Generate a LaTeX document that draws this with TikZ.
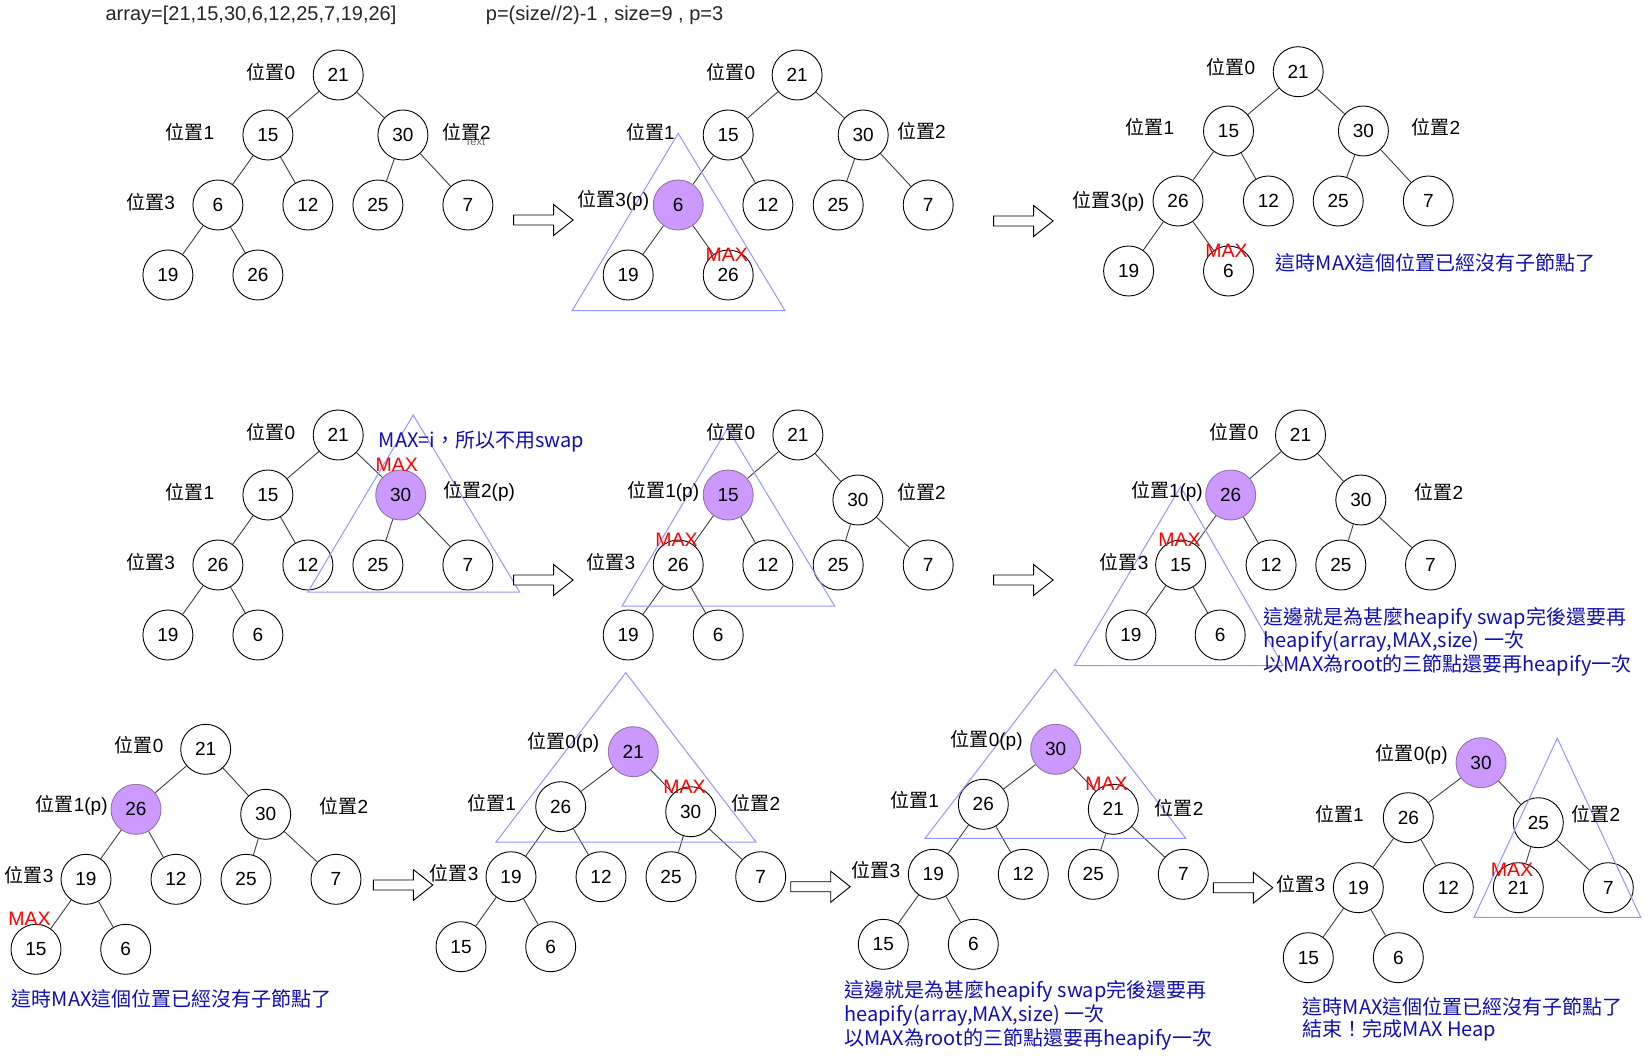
\documentclass[tikz,border=0pt]{standalone}
\usepackage{fontspec}
\setmainfont{Liberation Sans}
\newfontfamily\cjk{Noto Sans CJK TC}
\definecolor{tricol}{RGB}{150,150,255}
\definecolor{bluetxt}{RGB}{15,15,180}
\definecolor{purp}{RGB}{204,153,255}
\definecolor{purpline}{RGB}{150,115,166}
\newcommand\wzlbl{{\cjk 位置}}
\begin{document}
\begin{tikzpicture}[x=1pt,y=-1pt,
 hn/.style={circle,draw=black,line width=0.9pt,fill=white,minimum size=50pt,inner sep=0pt,font=\fontsize{19}{19}\selectfont},
 hp/.style={hn,fill=purp,draw=purpline},
 lnk/.style={draw=black!75,line width=0.9pt},
 lbl/.style={inner sep=0pt,font=\fontsize{19}{19}\selectfont},
 maxlbl/.style={inner sep=0pt,text=red,font=\fontsize{19.5}{19.5}\selectfont},
 bnote/.style={inner sep=0pt,anchor=west,text=bluetxt,font=\cjk\fontsize{20}{23}\selectfont},
 tribox/.style={draw=tricol,line width=1pt},
 hdr/.style={inner sep=0pt,anchor=west,text=black!85,font=\fontsize{20}{20}\selectfont},
 barrow/.pic={\draw[line width=0.9pt,fill=white] (0,-5)--(40,-5)--(40,-15.5)--(59.5,0)--(40,15.5)--(40,5)--(0,5)--cycle;}
]
\fill[white] (0,0) rectangle (1651,1062);
\useasboundingbox (0,0) rectangle (1651,1062);

% headers
\node[hdr] (h1) at (105.4,15) {array=[21,15,30,6,12,25,7,19,26]};
\node[hdr] (h2) at (485.7,15) {p=(size//2)-1 , size=9 , p=3};

% Tree A
\node[hn] (A0) at (338.2,75) {21};
\node[hn] (A1) at (267.9,135) {15};
\node[hn] (A2) at (402.9,135) {30};
\node[hn] (A3) at (217.9,205) {6};
\node[hn] (A4) at (307.9,205) {12};
\node[hn] (A5) at (377.9,205) {25};
\node[hn] (A6) at (467.9,205) {7};
\node[hn] (A7) at (167.9,275) {19};
\node[hn] (A8) at (257.9,275) {26};

% Tree B
\node[hn] (B0) at (797.1,75) {21};
\node[hn] (B1) at (728.2,135) {15};
\node[hn] (B2) at (863.2,135) {30};
\node[hp] (B3) at (678.2,205) {6};
\node[hn] (B4) at (767.9,205) {12};
\node[hn] (B5) at (838.2,205) {25};
\node[hn] (B6) at (928.2,205) {7};
\node[hn] (B7) at (628.2,275) {19};
\node[hn] (B8) at (728.2,275) {26};

% Tree C
\node[hn] (C0) at (1298.2,71.7) {21};
\node[hn] (C1) at (1228.5,131) {15};
\node[hn] (C2) at (1363.4,131) {30};
\node[hn] (C3) at (1178,201) {26};
\node[hn] (C4) at (1268.4,201) {12};
\node[hn] (C5) at (1338.2,201) {25};
\node[hn] (C6) at (1428.3,201) {7};
\node[hn] (C7) at (1128.6,271) {19};
\node[hn] (C8) at (1228.5,271) {6};

% Tree D
\node[hn] (D0) at (338.2,435) {21};
\node[hn] (D1) at (267.9,495) {15};
\node[hp] (D2) at (400.7,495) {30};
\node[hn] (D3) at (217.9,565) {26};
\node[hn] (D4) at (307.9,565) {12};
\node[hn] (D5) at (377.9,565) {25};
\node[hn] (D6) at (467.9,565) {7};
\node[hn] (D7) at (167.9,635) {19};
\node[hn] (D8) at (257.9,635) {6};

% Tree E
\node[hn] (E0) at (797.9,435) {21};
\node[hp] (E1) at (728.2,495) {15};
\node[hn] (E2) at (857.9,500) {30};
\node[hn] (E3) at (678.2,565) {26};
\node[hn] (E4) at (767.9,565) {12};
\node[hn] (E5) at (838.2,565) {25};
\node[hn] (E6) at (928.2,565) {7};
\node[hn] (E7) at (628.2,635) {19};
\node[hn] (E8) at (718.2,635) {6};

% Tree F
\node[hn] (F0) at (1300.5,435) {21};
\node[hp] (F1) at (1230.7,495) {26};
\node[hn] (F2) at (1360.8,500) {30};
\node[hn] (F3) at (1180.6,565) {15};
\node[hn] (F4) at (1271.1,565) {12};
\node[hn] (F5) at (1340.8,565) {25};
\node[hn] (F6) at (1430.5,565) {7};
\node[hn] (F7) at (1130.9,635) {19};
\node[hn] (F8) at (1220.2,635) {6};

% Tree G
\node[hn] (G0) at (205.7,749.3) {21};
\node[hp] (G1) at (136,809.3) {26};
\node[hn] (G2) at (265.7,814.3) {30};
\node[hn] (G3) at (86,879.3) {19};
\node[hn] (G4) at (176,879.3) {12};
\node[hn] (G5) at (246,879.3) {25};
\node[hn] (G6) at (336,879.3) {7};
\node[hn] (G7) at (36,949.3) {15};
\node[hn] (G8) at (125.7,949.3) {6};

% Tree H
\node[hp] (H0) at (633.3,751.7) {21};
\node[hn] (H1) at (560.7,806.7) {26};
\node[hn] (H2) at (690.7,811.7) {30};
\node[hn] (H3) at (511,876.7) {19};
\node[hn] (H4) at (601,876.7) {12};
\node[hn] (H5) at (671,876.7) {25};
\node[hn] (H6) at (760.7,876.7) {7};
\node[hn] (H7) at (461,946.7) {15};
\node[hn] (H8) at (550.7,946.7) {6};

% Tree I
\node[hp] (I0) at (1055.7,749.3) {30};
\node[hn] (I1) at (983.3,804.3) {26};
\node[hn] (I2) at (1113.3,809.3) {21};
\node[hn] (I3) at (933.3,874.3) {19};
\node[hn] (I4) at (1023.3,874.3) {12};
\node[hn] (I5) at (1093.3,874.3) {25};
\node[hn] (I6) at (1183.3,874.3) {7};
\node[hn] (I7) at (883.3,944.3) {15};
\node[hn] (I8) at (973.3,944.3) {6};

% Tree J
\node[hp] (J0) at (1481,762.7) {30};
\node[hn] (J1) at (1408.3,817.7) {26};
\node[hn] (J2) at (1538.3,822.7) {25};
\node[hn] (J3) at (1358.3,887.7) {19};
\node[hn] (J4) at (1448.3,887.7) {12};
\node[hn] (J5) at (1518.3,887.7) {21};
\node[hn] (J6) at (1608.3,887.7) {7};
\node[hn] (J7) at (1308.3,957.7) {15};
\node[hn] (J8) at (1398.3,957.7) {6};

% edges
\foreach \t in {A,B,C,D,E,F,G,H,I,J} {
  \draw[lnk] (\t0)--(\t1) (\t0)--(\t2) (\t1)--(\t3) (\t1)--(\t4)
             (\t2)--(\t5) (\t2)--(\t6) (\t3)--(\t7) (\t3)--(\t8);
}

% triangles
\draw[tribox] (678.2,133.3) -- (572.1,310.7) -- (785,310.7) -- cycle;
\draw[tribox] (413.2,415) -- (307.9,592) -- (519.6,592) -- cycle;
\draw[tribox] (727.5,428.3) -- (622.1,606) -- (834.6,606) -- cycle;
\draw[tribox] (1180.6,486.7) -- (1074.3,665.7) -- (1283,665.7) -- cycle;
\draw[tribox] (625.7,672.7) -- (496,842) -- (756,842) -- cycle;
\draw[tribox] (1055,669.3) -- (925,838.3) -- (1185.7,838.3) -- cycle;
\draw[tribox] (1557.3,738.3) -- (1474,917.3) -- (1640.7,917.3) -- cycle;

% block arrows
\pic at (513.6,220) {barrow};
\pic at (993.6,221) {barrow};
\pic at (513.6,580) {barrow};
\pic at (993.6,580) {barrow};
\pic at (373.3,885) {barrow};
\pic at (790.7,886.7) {barrow};
\pic at (1213.3,887.7) {barrow};

% labels A
\node[lbl] (Al0) at (271,71.7) {\wzlbl 0};
\node[lbl] (Al1) at (190,131.7) {\wzlbl 1};
\node[lbl] (Al2) at (466.4,131.7) {\wzlbl 2};
\node[inner sep=0pt,text=black!60,font=\fontsize{11}{11}\selectfont] (Atx) at (475,141.7) {Text};
\node[lbl] (Al3) at (150.7,201.7) {\wzlbl 3};
% labels B
\node[lbl] (Bl0) at (731,72) {\wzlbl 0};
\node[lbl] (Bl1) at (650.4,131.7) {\wzlbl 1};
\node[lbl] (Bl2) at (921.4,131) {\wzlbl 2};
\node[lbl] (Bl3) at (613.2,200) {\wzlbl 3(p)};
\node[maxlbl] (Bm) at (726.8,255) {MAX};
% labels C
\node[lbl] (Cl0) at (1230.8,66.7) {\wzlbl 0};
\node[lbl] (Cl1) at (1150,126.7) {\wzlbl 1};
\node[lbl] (Cl2) at (1435.8,126.7) {\wzlbl 2};
\node[lbl] (Cl3) at (1108.6,201) {\wzlbl 3(p)};
\node[maxlbl] (Cm) at (1226.6,250.7) {MAX};
\node[bnote] (Cn) at (1275.6,263.3) {這時MAX這個位置已經沒有子節點了};
% labels D
\node[lbl] (Dl0) at (271,431.7) {\wzlbl 0};
\node[lbl] (Dl1) at (190,491.7) {\wzlbl 1};
\node[lbl] (Dl2) at (479,491.7) {\wzlbl 2(p)};
\node[lbl] (Dl3) at (150.7,561.7) {\wzlbl 3};
\node[maxlbl] (Dm) at (396.8,465) {MAX};
\node[bnote] (Dn) at (378.6,441.7) {MAX=i，所以不用swap};
% labels E
\node[lbl] (El0) at (731,431.7) {\wzlbl 0};
\node[lbl] (El1) at (663.2,491.7) {\wzlbl 1(p)};
\node[lbl] (El2) at (921.4,491.7) {\wzlbl 2};
\node[lbl] (El3) at (611,561.7) {\wzlbl 3};
\node[maxlbl] (Em) at (676.4,540) {MAX};
% labels F
\node[lbl] (Fl0) at (1234.1,431.7) {\wzlbl 0};
\node[lbl] (Fl1) at (1166.9,491.7) {\wzlbl 1(p)};
\node[lbl] (Fl2) at (1438.8,491.7) {\wzlbl 2};
\node[lbl] (Fl3) at (1124.1,561.7) {\wzlbl 3};
\node[maxlbl] (Fm) at (1179.5,540) {MAX};
\node[bnote] (Fn1) at (1263.5,618.3) {這邊就是為甚麼heapify swap完後還要再};
\node[bnote] (Fn2) at (1263.5,641.7) {heapify(array,MAX,size) 一次};
\node[bnote] (Fn3) at (1263.5,665) {以MAX為root的三節點還要再heapify一次};
% labels G
\node[lbl] (Gl0) at (139.2,745) {\wzlbl 0};
\node[lbl] (Gl1) at (71.7,805.7) {\wzlbl 1(p)};
\node[lbl] (Gl2) at (344,805.7) {\wzlbl 2};
\node[lbl] (Gl3) at (29.2,875) {\wzlbl 3};
\node[maxlbl] (Gm) at (29.5,918.3) {MAX};
\node[bnote] (Gn) at (11.7,999.3) {這時MAX這個位置已經沒有子節點了};
% labels H
\node[lbl] (Hl0) at (563.3,742.7) {\wzlbl 0(p)};
\node[lbl] (Hl1) at (491.7,802.7) {\wzlbl 1};
\node[lbl] (Hl2) at (755.8,802.7) {\wzlbl 2};
\node[lbl] (Hl3) at (454.2,873.3) {\wzlbl 3};
\node[maxlbl] (Hm) at (684.5,786.7) {MAX};
% labels I
\node[lbl] (Il0) at (986.7,740) {\wzlbl 0(p)};
\node[lbl] (Il1) at (914.7,800) {\wzlbl 1};
\node[lbl] (Il2) at (1179.2,808.3) {\wzlbl 2};
\node[lbl] (Il3) at (875.8,870) {\wzlbl 3};
\node[maxlbl] (Im) at (1106.5,784) {MAX};
\node[bnote] (In1) at (844,991.7) {這邊就是為甚麼heapify swap完後還要再};
\node[bnote] (In2) at (844,1015) {heapify(array,MAX,size) 一次};
\node[bnote] (In3) at (844,1039.3) {以MAX為root的三節點還要再heapify一次};
% labels J
\node[lbl] (Jl0) at (1411.7,754.3) {\wzlbl 0(p)};
\node[lbl] (Jl1) at (1339.3,814.3) {\wzlbl 1};
\node[lbl] (Jl2) at (1595.8,814.3) {\wzlbl 2};
\node[lbl] (Jl3) at (1300.8,884.3) {\wzlbl 3};
\node[maxlbl] (Jm) at (1512,870) {MAX};
\node[bnote] (Jn1) at (1302.7,1006.7) {這時MAX這個位置已經沒有子節點了};
\node[bnote] (Jn2) at (1302.7,1030) {結束！完成MAX Heap};
\end{tikzpicture}
\end{document}
